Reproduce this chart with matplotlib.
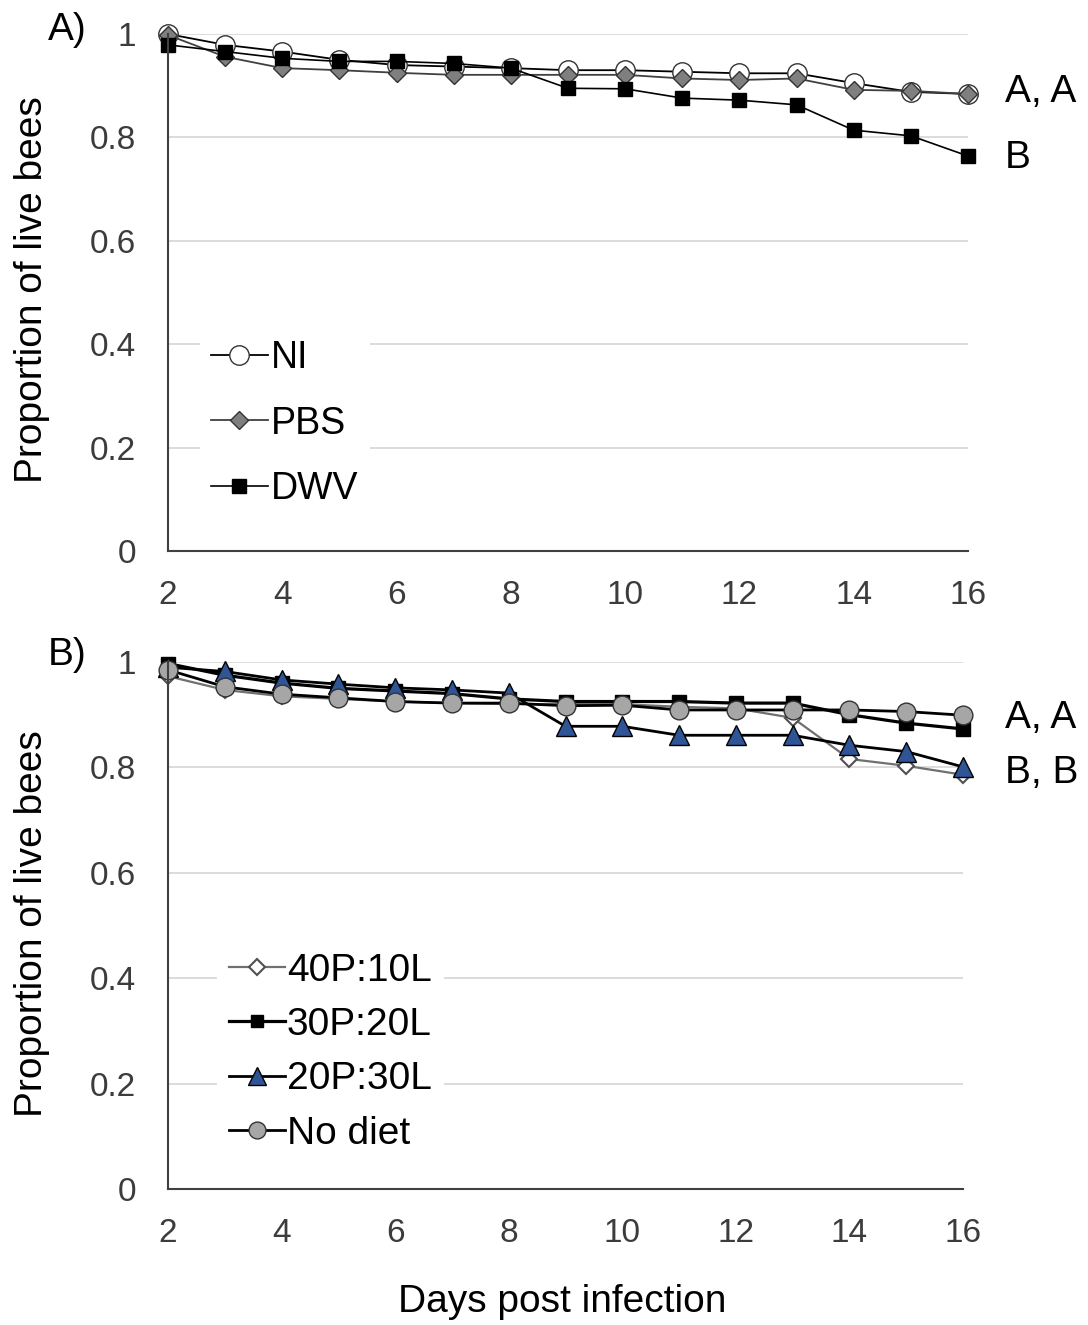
import numpy as np
import matplotlib
matplotlib.use("Agg")
import matplotlib.pyplot as plt

plt.rcParams['font.family'] = ['Liberation Sans', 'DejaVu Sans']

days = np.arange(2, 17)

# panel A - infection treatments
ni = [1.0, 0.979, 0.966, 0.950, 0.940, 0.937, 0.934, 0.930, 0.930, 0.927, 0.924, 0.924, 0.905, 0.888, 0.884]
pbs = [0.998, 0.956, 0.934, 0.930, 0.925, 0.921, 0.921, 0.921, 0.921, 0.914, 0.911, 0.914, 0.892, 0.890, 0.884]
dwv = [0.979, 0.966, 0.953, 0.947, 0.947, 0.943, 0.934, 0.895, 0.894, 0.876, 0.872, 0.863, 0.814, 0.803, 0.764]

# panel B - diets
p40l10 = [0.973, 0.947, 0.935, 0.930, 0.925, 0.922, 0.920, 0.920, 0.920, 0.915, 0.912, 0.894, 0.816, 0.803, 0.786]
p30l20 = [0.997, 0.975, 0.960, 0.950, 0.945, 0.940, 0.930, 0.925, 0.925, 0.925, 0.922, 0.922, 0.900, 0.884, 0.873]
p20l30 = [0.990, 0.982, 0.966, 0.958, 0.951, 0.947, 0.941, 0.878, 0.878, 0.861, 0.861, 0.861, 0.842, 0.830, 0.801]
nodiet = [0.985, 0.953, 0.939, 0.932, 0.925, 0.922, 0.922, 0.917, 0.918, 0.909, 0.909, 0.909, 0.909, 0.906, 0.899]

yticks = [0, 0.2, 0.4, 0.6, 0.8, 1]
ytick_labels = ['0', '0.2', '0.4', '0.6', '0.8', '1']
xticks = [2, 4, 6, 8, 10, 12, 14, 16]

W, H = 1088, 1325
fig = plt.figure(figsize=(W / 100, H / 100), dpi=100)
axA = fig.add_axes([168 / W, 1 - 551 / H, 800 / W, 517 / H])
axB = fig.add_axes([168 / W, 1 - 1189 / H, 795 / W, 527 / H])

tick_col = '#3c3c3c'
for ax in (axA, axB):
    ax.set_xlim(2, 16)
    ax.set_ylim(0, 1)
    ax.set_yticks(yticks)
    ax.set_yticklabels(ytick_labels)
    ax.set_xticks(xticks)
    ax.tick_params(axis='both', length=0, labelsize=24, labelcolor=tick_col)
    ax.tick_params(axis='x', pad=21)
    ax.tick_params(axis='y', pad=23)
    ax.grid(axis='y', color='#d9d9d9', linewidth=1.3)
    ax.set_axisbelow(True)
    for s in ['top', 'right']:
        ax.spines[s].set_visible(False)
    for s in ['left', 'bottom']:
        ax.spines[s].set_color('#404040')
        ax.spines[s].set_linewidth(1.5)

edge = '#333333'
axA.plot(days, ni, '-o', color='black', lw=1.3, ms=14, mfc='white', mec=edge, mew=1.0,
         label='NI', clip_on=False)
axA.plot(days, pbs, '-D', color='#404040', lw=1.3, ms=9.5, mfc='#7f7f7f', mec=edge, mew=1.0,
         label='PBS', clip_on=False)
axA.plot(days, dwv, '-s', color='black', lw=1.2, ms=10.5, mfc='black', mec='black', mew=1.0,
         label='DWV', clip_on=False)

axB.plot(days, p40l10, '-D', color='#707070', lw=1.6, ms=8.5, mfc='white', mec='#505050', mew=1.5,
         label='40P:10L', clip_on=False)
axB.plot(days, p30l20, '-s', color='black', lw=2.3, ms=10, mfc='black', mec='black', mew=1.0,
         label='30P:20L', clip_on=False)
axB.plot(days, p20l30, '-^', color='black', lw=2.0, ms=14, mfc='#2f5597', mec='black', mew=1.0,
         label='20P:30L', clip_on=False)
axB.plot(days, nodiet, '-o', color='black', lw=2.0, ms=13.5, mfc='#a6a6a6', mec=edge, mew=1.0,
         label='No diet', clip_on=False)

legA = axA.legend(loc='upper left', bbox_to_anchor=(200 / W, 1 - 329 / H),
                  bbox_transform=fig.transFigure, fontsize=27, frameon=True,
                  facecolor='white', edgecolor='none', framealpha=1, fancybox=False,
                  borderpad=0.3, borderaxespad=0, handlelength=1.5, handletextpad=0.1,
                  labelspacing=0.78, markerscale=1.0)
legB = axB.legend(loc='upper left', bbox_to_anchor=(217 / W, 1 - 941 / H),
                  bbox_transform=fig.transFigure, fontsize=28, frameon=True,
                  facecolor='white', edgecolor='none', framealpha=1, fancybox=False,
                  borderpad=0.3, borderaxespad=0, handlelength=1.45, handletextpad=0.05,
                  labelspacing=0.47, markerscale=0.9)

# significance letters
axA.text(16.65, 0.888, 'A, A', fontsize=28, va='center', ha='left', clip_on=False)
axA.text(16.65, 0.760, 'B', fontsize=28, va='center', ha='left', clip_on=False)
axB.text(16.74, 0.894, 'A, A', fontsize=28, va='center', ha='left', clip_on=False)
axB.text(16.74, 0.789, 'B, B', fontsize=28, va='center', ha='left', clip_on=False)

fig.text(67 / W, 1 - 30 / H, 'A)', fontsize=28, ha='center', va='center')
fig.text(67 / W, 1 - 655 / H, 'B)', fontsize=28, ha='center', va='center')

fig.text(32 / W, 1 - 290 / H, 'Proportion of live bees', fontsize=28, rotation=90,
         ha='center', va='center')
fig.text(32 / W, 1 - 924 / H, 'Proportion of live bees', fontsize=28, rotation=90,
         ha='center', va='center')
fig.text(562 / W, 1 - 1302 / H, 'Days post infection', fontsize=28, ha='center', va='center')

fig.savefig('out.png', dpi=100)
